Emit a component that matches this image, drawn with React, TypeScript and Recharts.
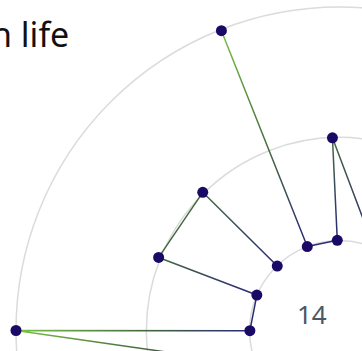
import React from 'react';
import { RadarChart, Radar, PolarGrid, PolarAngleAxis, PolarRadiusAxis } from 'recharts';

// Observations in drawing order: angle (degrees clockwise from north) and level.
// null level = break in the line.
const pathAngles = [22.5, 22.5, 357.9, 358.6, 339.0, 338.5, 316.0, 316.0, 315.3, 292.0, 293.2, 269.9, 270.0, 247.5, 247.5];
const pathLevels: (number | null)[] = [null, 27.8, 59.6, 27.9, 27.8, 99.6, null, 27.7, 60.1, 60.3, 27.8, 27.7, 100, 27.8, null];

const radiusTicks = [27.8, 59.7, 100];
const titleText = 'n life';
const centerLabel = '14';

const data = pathAngles.map((a, i) => ({ deg: a, level: pathLevels[i] }));

function BrokenLine(props: any) {
  const { points = [], stroke, strokeWidth } = props;
  let d = '';
  let open = false;
  const dots: React.ReactNode[] = [];
  points.forEach((p: any, i: number) => {
    const row = p.payload ?? {};
    if (row.level == null || !Number.isFinite(p.x) || !Number.isFinite(p.y)) {
      open = false;
      return;
    }
    d += `${open ? 'L' : 'M'}${p.x},${p.y}`;
    open = true;
    dots.push(<circle key={i} cx={p.x} cy={p.y} r={5.5} fill="#1a0a66" />);
  });
  return (
    <g>
      <path d={d} fill="none" stroke={stroke} strokeWidth={strokeWidth} strokeLinejoin="round" />
      {dots}
    </g>
  );
}

export default function App() {
  return (
    <div style={{ position: 'fixed', left: 0, top: 0, width: 362, height: 351, overflow: 'hidden', background: '#fff' }}>
      <svg width={0} height={0} style={{ position: 'absolute' }}>
        <defs>
          <radialGradient id="lineGrad" gradientUnits="userSpaceOnUse" cx={339.5} cy={330.5} r={323.5}>
            <stop offset="0" stopColor="#22226e" />
            <stop offset="0.3" stopColor="#2b2d73" />
            <stop offset="0.6" stopColor="#46693f" />
            <stop offset="1" stopColor="#78c244" />
          </radialGradient>
        </defs>
      </svg>
      <RadarChart
        width={362}
        height={351}
        data={data}
        cx={339.5}
        cy={330.5}
        outerRadius={323.5}
        margin={{ top: 0, right: 0, bottom: 0, left: 0 }}
      >
        <PolarGrid gridType="circle" radialLines={false} stroke="#d8dcdc" strokeWidth={1.5} />
        <PolarAngleAxis dataKey="deg" type="number" domain={[0, 360]} tick={false} axisLine={false} />
        <PolarRadiusAxis type="number" domain={[0, 100]} ticks={radiusTicks} tick={false} axisLine={false} />
        <Radar
          dataKey="level"
          stroke="url(#lineGrad)"
          strokeWidth={1.5}
          fill="none"
          dot={false}
          shape={(p: any) => <BrokenLine {...p} />}
          isAnimationActive={false}
        />
      </RadarChart>
      <svg width={362} height={351} style={{ position: 'absolute', left: 0, top: 0, pointerEvents: 'none' }}>
        <text x={-9} y={47} fontFamily="Noto Sans" fontSize={34} fill="#111">{titleText}</text>
        <text x={297} y={324} fontFamily="Noto Sans" fontSize={26} fill="#4a5866">{centerLabel}</text>
      </svg>
    </div>
  );
}
